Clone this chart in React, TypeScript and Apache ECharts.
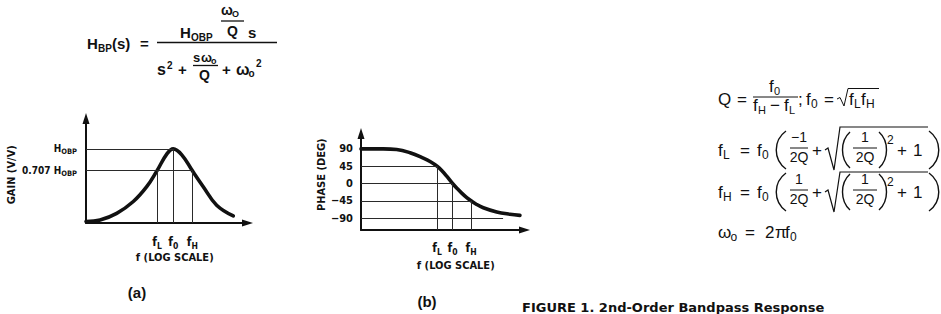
import React, { useEffect, useRef } from "react";
import * as echarts from "echarts";

// ---------- data (axis units) ----------
const gainFreq = [0, 8.7, 19, 29.3, 37.6, 44, 50, 54, 59.3, 65.8, 72.6, 80.9, 91.2];
const gainValues = [0.02, 0.04, 0.13, 0.29, 0.49, 0.707, 0.93, 1.0, 0.92, 0.707, 0.49, 0.24, 0.095];
const gainCornerFreqs = [44, 54, 65.8];
const gainLevels = [1, 0.707];
const gainLevelText = ["H", "0.707 H"];
const gainLevelSub = ["OBP", "OBP"];
const gainGuideEnds = [54, 65.8];
const gainVerticalTops = [0.707, 1, 0.707];

const phaseFreq = [0, 13.6, 21.8, 30, 38.1, 42.5, 46.5, 49.5, 52.4, 56, 59, 61.6, 64.5, 67.3, 70.5, 74.8, 83, 91.1, 97.2];
const phaseValues = [90, 90, 88.5, 80, 66, 56.5, 45, 33, 19, 0, -14, -25, -36, -45, -54, -63, -74, -80, -83];
const phaseCornerFreqs = [46.5, 56, 67.3];
const phaseTicks = [90, 45, 0, -45, -90];
const phaseGuideLevels = [45, 0, -45, -90];
const phaseGuideEnds = [46.5, 56, 67.3, 86.9];
const phaseVerticalTops = [45, 0, -45];

const freqSubs = ["L", "0", "H"];

// ---------- styling helpers ----------
const SANS = "'Liberation Sans', Arial, Helvetica, sans-serif";
const NARROW = "'Liberation Sans Narrow', 'DejaVu Sans Condensed', 'Liberation Sans', sans-serif";
const INK = "#111";

type G = Record<string, any>;
const T = (x: number, base: number, text: string, size: number, bold = false, align = "left", family = SANS): G => ({
  type: "text",
  x,
  y: base - 0.3465 * size,
  silent: true,
  style: {
    text,
    fontSize: size,
    fontFamily: family,
    fontWeight: bold ? "bold" : "normal",
    fill: INK,
    textAlign: align,
    align,
    textVerticalAlign: "middle",
    verticalAlign: "middle",
  },
});
const Ln = (x1: number, y1: number, x2: number, y2: number, w = 1): G => ({
  type: "line",
  silent: true,
  shape: { x1, y1, x2, y2 },
  style: { stroke: INK, lineWidth: w },
});
const Poly = (points: number[][], w = 1.1): G => ({
  type: "polyline",
  silent: true,
  shape: { points },
  style: { stroke: INK, lineWidth: w, fill: null },
});
const Paren = (x: number, y1: number, y2: number, bulge: number, w = 1.4): G => ({
  type: "bezierCurve",
  silent: true,
  shape: {
    x1: x, y1, x2: x, y2,
    cpx1: x + bulge, cpy1: y1 + (y2 - y1) * 0.25,
    cpx2: x + bulge, cpy2: y1 + (y2 - y1) * 0.75,
  },
  style: { stroke: INK, lineWidth: w, fill: null },
});

function topFormula(): G[] {
  const b = true;
  return [
    T(87, 49, "H", 15, b),
    T(98, 52, "BP", 10, b),
    T(112, 49, "(s)", 15, b),
    T(140, 49, "=", 15, b),
    Ln(157, 42.5, 277, 42.5, 1.6),
    T(180, 38, "H", 15, b),
    T(191, 40.5, "OBP", 10, b),
    T(221, 15, "ω", 14, b),
    T(232, 17, "O", 9, b),
    Ln(221, 21, 244, 21, 1.3),
    T(227, 35.5, "Q", 14, b),
    T(248, 38, "s", 15, b),
    T(157, 75, "s", 16, b),
    T(167, 69, "2", 10, b),
    T(178, 75, "+", 15, b),
    T(193, 62, "s", 13, b),
    T(201, 62, "ω", 13, b),
    T(211, 64, "o", 9, b),
    Ln(193, 65.5, 218, 65.5, 1.3),
    T(199, 80, "Q", 14, b),
    T(222, 75, "+", 15, b),
    T(236, 75, "ω", 16, b),
    T(248.5, 77, "o", 10, b),
    T(256, 67, "2", 10, b),
  ];
}

function rootLine(dy: number, numer: string, sub: string, overY: number): G[] {
  const B = 156 + dy;
  return [
    T(718, B, "f", 17),
    T(723, B + 3, sub, 12),
    T(740, B, "=", 17),
    T(757, B, "f", 17),
    T(762, B + 3, "0", 12),
    Paren(786, 131 + dy, 169 + dy, -13),
    T(799, 142 + dy, numer, 14, false, "center"),
    Ln(790, 148 + dy, 808, 148 + dy, 1),
    T(799, 162 + dy, "2Q", 14, false, "center"),
    T(812, B, "+", 17),
    Poly([[825, 150 + dy], [828, 148 + dy], [834, 170 + dy], [840, overY], [928, overY]], 1.2),
    Paren(850, 132 + dy, 168 + dy, -10),
    T(865, 142 + dy, "1", 14, false, "center"),
    Ln(853, 148 + dy, 877, 148 + dy, 1),
    T(865, 162 + dy, "2Q", 14, false, "center"),
    Paren(879, 132 + dy, 168 + dy, 10),
    T(887, 144 + dy, "2", 12),
    T(897, B, "+", 17),
    T(913, B, "1", 17),
    Paren(929, 131 + dy, 169 + dy, 13),
  ];
}

function rightFormulas(): G[] {
  return [
    // Q = f0 / (fH - fL); f0 = sqrt(fL fH)
    T(718, 105, "Q", 17),
    T(737, 105, "=", 17),
    Ln(753, 97, 798, 97, 1),
    T(769, 92.5, "f", 17),
    T(774, 94.5, "0", 11),
    T(753, 111, "f", 17),
    T(758, 113.5, "H", 11),
    T(770, 111, "−", 17),
    T(784, 111, "f", 17),
    T(789, 113.5, "L", 11),
    T(798, 105, ";", 17),
    T(806, 105, "f", 17),
    T(811, 108, "0", 12),
    T(824, 105, "=", 17),
    Poly([[837, 99], [840, 97.5], [844, 106], [848, 88.5], [879, 88.5]], 1),
    T(849, 105, "f", 17),
    T(854, 108, "L", 12),
    T(861, 105, "f", 17),
    T(866, 108, "H", 12),
    ...rootLine(0, "−1", "L", 127),
    ...rootLine(42, "1", "H", 172),
    // omega_o = 2 pi f0
    T(718, 238, "ω", 17),
    T(730.5, 241, "o", 12),
    T(745, 238, "=", 17),
    T(765, 238, "2", 17),
    T(775, 238, "π", 17),
    T(785, 238, "f", 17),
    T(790, 241, "0", 12),
  ];
}

const subRichX = {
  m: { fontFamily: NARROW, fontWeight: "bold", fontSize: 12, lineHeight: 16, color: INK },
  s: { fontFamily: NARROW, fontWeight: "bold", fontSize: 8.5, lineHeight: 9, verticalAlign: "bottom", color: INK },
};
const subRichY = {
  m: { fontFamily: NARROW, fontWeight: "bold", fontSize: 10, lineHeight: 13, color: INK },
  s: { fontFamily: NARROW, fontWeight: "bold", fontSize: 7.5, lineHeight: 9, verticalAlign: "bottom", color: INK },
};

const nearest = (arr: number[], v: number) => {
  let best = 0;
  arr.forEach((a, i) => {
    if (Math.abs(a - v) < Math.abs(arr[best] - v)) best = i;
  });
  return best;
};

const axisLineStyle = {
  show: true,
  onZero: false,
  symbol: ["none", "triangle"],
  symbolSize: [7, 11],
  lineStyle: { color: INK, width: 2 },
};

const nameStyle = (padding: number[]) => ({
  fontFamily: NARROW,
  fontWeight: "bold",
  fontSize: 11,
  color: INK,
  padding,
});

const guideStyle = { color: "#2a2a2a", width: 1, type: "solid" };

function buildOption(): any {
  const gainMarks: any[] = [];
  gainLevels.forEach((lv, i) => {
    gainMarks.push([{ coord: [0, lv] }, { coord: [gainGuideEnds[i], lv] }]);
  });
  gainCornerFreqs.forEach((f, i) => {
    gainMarks.push([{ coord: [f, 0] }, { coord: [f, gainVerticalTops[i]] }]);
  });
  const phaseMarks: any[] = [];
  phaseGuideLevels.forEach((lv, i) => {
    phaseMarks.push([{ coord: [0, lv] }, { coord: [phaseGuideEnds[i], lv] }]);
  });
  phaseCornerFreqs.forEach((f, i) => {
    phaseMarks.push([{ coord: [f, -121] }, { coord: [f, phaseVerticalTops[i]] }]);
  });

  const markLineBase = {
    silent: true,
    symbol: "none",
    label: { show: false },
    lineStyle: guideStyle,
    emphasis: { disabled: true },
  };

  return {
    animation: false,
    backgroundColor: "#ffffff",
    textStyle: { fontFamily: SANS },
    grid: [
      { left: 86, top: 118.5, width: 161.5, height: 104.5, outerBoundsMode: "none", containLabel: false },
      { left: 361, top: 133.5, width: 163.5, height: 96.5, outerBoundsMode: "none", containLabel: false },
    ],
    xAxis: [
      {
        type: "value",
        gridIndex: 0,
        min: 0,
        max: 100,
        axisLine: axisLineStyle,
        axisTick: { show: false },
        splitLine: { show: false },
        axisLabel: {
          customValues: gainCornerFreqs,
          margin: 11,
          rich: subRichX,
          formatter: (v: number) => `{m|f}{s|${freqSubs[nearest(gainCornerFreqs, v)]}}`,
        },
        name: "f (LOG SCALE)",
        nameLocation: "middle",
        nameGap: 29,
        nameMoveOverlap: false,
        nameTextStyle: nameStyle([0, 0, 0, 16]),
      },
      {
        type: "value",
        gridIndex: 1,
        min: 0,
        max: 100,
        axisLine: axisLineStyle,
        axisTick: { show: false },
        splitLine: { show: false },
        axisLabel: {
          customValues: phaseCornerFreqs,
          margin: 10,
          rich: subRichX,
          formatter: (v: number) => `{m|f}{s|${freqSubs[nearest(phaseCornerFreqs, v)]}}`,
        },
        name: "f (LOG SCALE)",
        nameLocation: "middle",
        nameGap: 30,
        nameMoveOverlap: false,
        nameTextStyle: nameStyle([0, 0, 0, 26]),
      },
    ],
    yAxis: [
      {
        type: "value",
        gridIndex: 0,
        min: 0,
        max: 1.41,
        axisLine: axisLineStyle,
        axisTick: { show: false },
        splitLine: { show: false },
        axisLabel: {
          customValues: gainLevels,
          margin: 9,
          rich: subRichY,
          formatter: (v: number) => {
            const i = nearest(gainLevels, v);
            return `{m|${gainLevelText[i]}}{s|${gainLevelSub[i]}}`;
          },
        },
        name: "GAIN (V/V)",
        nameLocation: "middle",
        nameRotate: 90,
        nameGap: 69,
        nameMoveOverlap: false,
        nameTextStyle: nameStyle([0, 8, 0, 0]),
      },
      {
        type: "value",
        gridIndex: 1,
        min: -121,
        max: 130,
        axisLine: axisLineStyle,
        axisTick: { show: false },
        splitLine: { show: false },
        axisLabel: {
          customValues: phaseTicks,
          margin: 8,
          fontFamily: NARROW,
          fontWeight: "bold",
          fontSize: 11,
          color: INK,
          formatter: (v: number) => {
            const t = phaseTicks[nearest(phaseTicks, v)];
            return t < 0 ? `−${Math.abs(t)}` : `${t}`;
          },
        },
        name: "PHASE (DEG)",
        nameLocation: "middle",
        nameRotate: 90,
        nameGap: 34,
        nameMoveOverlap: false,
        nameTextStyle: nameStyle([0, 0, 0, 14]),
      },
    ],
    series: [
      {
        type: "line",
        xAxisIndex: 0,
        yAxisIndex: 0,
        data: gainFreq.map((f, i) => [f, gainValues[i]]),
        smooth: 0.4,
        symbol: "none",
        showSymbol: false,
        lineStyle: { color: INK, width: 3.6, cap: "round" },
        itemStyle: { color: INK },
        emphasis: { disabled: true },
        z: 3,
        markLine: { ...markLineBase, data: gainMarks },
      },
      {
        type: "line",
        xAxisIndex: 1,
        yAxisIndex: 1,
        data: phaseFreq.map((f, i) => [f, phaseValues[i]]),
        smooth: 0.4,
        symbol: "none",
        showSymbol: false,
        lineStyle: { color: INK, width: 3.6, cap: "round" },
        itemStyle: { color: INK },
        emphasis: { disabled: true },
        z: 3,
        markLine: { ...markLineBase, data: phaseMarks },
      },
    ],
    graphic: [
      ...topFormula(),
      ...rightFormulas(),
      {
        type: "text",
        x: 137,
        y: 292,
        silent: true,
        style: { text: "(a)", fontSize: 15, fontWeight: "bold", fontFamily: SANS, fill: INK, textAlign: "center", align: "center", textVerticalAlign: "middle", verticalAlign: "middle" },
      },
      {
        type: "text",
        x: 427,
        y: 301,
        silent: true,
        style: { text: "(b)", fontSize: 15, fontWeight: "bold", fontFamily: SANS, fill: INK, textAlign: "center", align: "center", textVerticalAlign: "middle", verticalAlign: "middle" },
      },
      T(522, 312, "FIGURE 1. 2nd-Order Bandpass Response", 13, true, "left", "'DejaVu Sans', sans-serif"),
    ],
  };
}

export default function App() {
  const ref = useRef<HTMLDivElement>(null);
  useEffect(() => {
    if (!ref.current) return;
    const chart = echarts.init(ref.current, undefined, { renderer: "svg" });
    chart.setOption(buildOption());
    return () => chart.dispose();
  }, []);
  return (
    <div
      ref={ref}
      style={{ position: "fixed", left: 0, top: 0, width: 941, height: 314, background: "#fff" }}
    />
  );
}
